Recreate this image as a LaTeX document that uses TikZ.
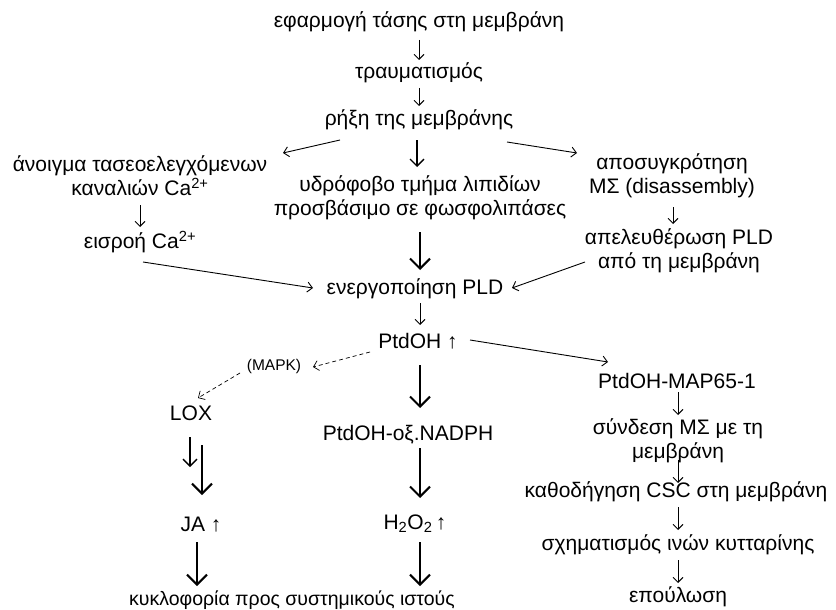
\documentclass[tikz,border=0pt]{standalone}
\usepackage{fontspec}
\setmainfont{Liberation Sans}
\usetikzlibrary{arrows.meta}

\begin{document}
\begin{tikzpicture}[
    x=1pt, y=-1pt,
    lbl/.style={font=\fontsize{21}{24}\selectfont, align=center, inner sep=0pt},
    small/.style={font=\fontsize{15.5}{18}\selectfont, inner sep=0pt},
    arr/.style={line width=0.9pt, -{Straight Barb[length=5pt,width=10pt]}},
    midarr/.style={line width=1.4pt, -{Straight Barb[length=7pt,width=14pt]}},
    bigarr/.style={line width=2pt, -{Straight Barb[length=10pt,width=20pt]}},
    dasharr/.style={line width=0.7pt, dash pattern=on 4pt off 3pt, -{Straight Barb[length=5pt,width=10pt]}}
]
  \useasboundingbox (0,0) rectangle (836,610);
  % Nodes, main column
  \node[lbl] (n0) at (419,22) {εφαρμογή τάσης στη μεμβράνη};
  \node[lbl] (n1) at (419,73) {τραυματισμός};
  \node[lbl] (n2) at (419,120) {ρήξη της μεμβράνης};
  \node[lbl] (n5) at (420,198) {υδρόφοβο τμήμα λιπιδίων\\προσβάσιμο σε φωσφολιπάσες};
  \node[lbl] (n8) at (415,289) {ενεργοποίηση PLD};
  \node[lbl] (n9) at (418,341) {PtdOH ↑};
  \node[lbl] (n12) at (408,435) {PtdOH-οξ.NADPH};
  \node[lbl] (n19) at (415,524) {H\textsubscript{2}O\textsubscript{2}\,↑};
  \node[lbl, font=\fontsize{19.5}{24}\selectfont] (n20) at (292,600) {κυκλοφορία προς συστημικούς ιστούς};
  % Nodes, left column
  \node[lbl] (n3) at (140,176) {άνοιγμα τασεοελεγχόμενων\\καναλιών Ca\textsuperscript{2+}};
  \node[lbl] (n4) at (140,242) {εισροή Ca\textsuperscript{2+}};
  \node[small] (n10) at (274,366) {(MAPK)};
  \node[lbl] (n11) at (191,413) {LOX};
  \node[lbl] (n18) at (201,525) {JA ↑};
  % Nodes, right column
  \node[lbl] (n6) at (672,176) {αποσυγκρότηση\\ΜΣ (disassembly)};
  \node[lbl] (n7) at (679,251) {απελευθέρωση PLD\\από τη μεμβράνη};
  \node[lbl] (n13) at (677,381) {PtdOH-MAP65-1};
  \node[lbl] (n14) at (678,441) {σύνδεση ΜΣ με τη\\μεμβράνη};
  \node[lbl] (n15) at (676,492) {καθοδήγηση CSC στη μεμβράνη};
  \node[lbl] (n16) at (678,545) {σχηματισμός ινών κυτταρίνης};
  \node[lbl] (n17) at (678,597) {επούλωση};
  % Thin arrows
  \draw[arr] ([shift={(0,18)}]n0.center) -- ([shift={(0,-13)}]n1.center);
  \draw[arr] ([shift={(0,15)}]n1.center) -- ([shift={(0,-14)}]n2.center);
  \draw[arr] ([shift={(-79,20)}]n2.center) -- ([shift={(143,-23)}]n3.center);
  \draw[arr] ([shift={(88,22)}]n2.center) -- ([shift={(-95,-23)}]n6.center);
  \draw[arr] ([shift={(0,29)}]n3.center) -- ([shift={(0,-15)}]n4.center);
  \draw[arr] ([shift={(1,31)}]n6.center) -- ([shift={(-6,-27)}]n7.center);
  \draw[arr] ([shift={(3,20)}]n4.center) -- ([shift={(-102,-1)}]n8.center);
  \draw[arr] ([shift={(-94,11)}]n7.center) -- ([shift={(97,-1)}]n8.center);
  \draw[arr] ([shift={(5,14)}]n8.center) -- ([shift={(2,-16)}]n9.center);
  \draw[arr] ([shift={(52,-1)}]n9.center) -- ([shift={(-69,-19)}]n13.center);
  \draw[arr] ([shift={(1,11)}]n13.center) -- ([shift={(0,-26)}]n14.center);
  \draw[arr] ([shift={(0,19)}]n14.center) -- ([shift={(2,-9)}]n15.center);
  \draw[arr] ([shift={(2,15)}]n15.center) -- ([shift={(0,-15)}]n16.center);
  \draw[arr] ([shift={(0,15)}]n16.center) -- ([shift={(0,-14)}]n17.center);
  % Dashed arrows
  \draw[dasharr] ([shift={(-48,11)}]n9.center) -- ([shift={(39,1)}]n10.center);
  \draw[dasharr] ([shift={(-34,7)}]n10.center) -- ([shift={(7,-15)}]n11.center);
  % Thick arrows
  \draw[midarr] ([shift={(-2,20)}]n2.center) -- ([shift={(-3,-31)}]n5.center);
  \draw[bigarr] ([shift={(0,34)}]n5.center) -- ([shift={(5,-19)}]n8.center);
  \draw[bigarr] ([shift={(2,24)}]n9.center) -- ([shift={(12,-27)}]n12.center);
  \draw[bigarr] ([shift={(12,13)}]n12.center) -- ([shift={(5,-26)}]n19.center);
  \draw[midarr] ([shift={(-1,24)}]n11.center) -- ([shift={(-1,54)}]n11.center);
  \draw[bigarr] ([shift={(11,32)}]n11.center) -- ([shift={(1,-30)}]n18.center);
  \draw[bigarr] ([shift={(-4,17)}]n18.center) -- ([shift={(-95,-14)}]n20.center);
  \draw[bigarr] ([shift={(5,18)}]n19.center) -- ([shift={(128,-14)}]n20.center);
\end{tikzpicture}
\end{document}
